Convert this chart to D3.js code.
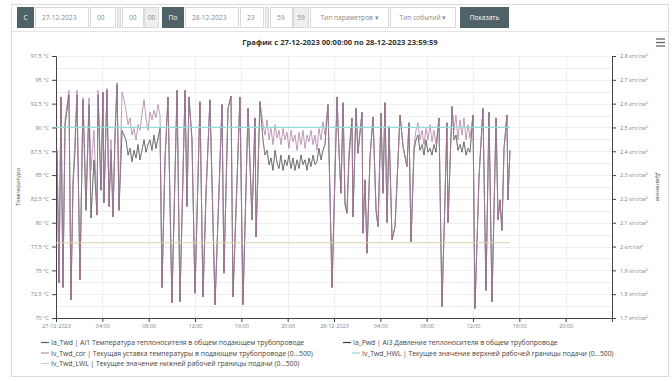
<!DOCTYPE html>
<html><head><meta charset="utf-8">
<script src="https://cdn.jsdelivr.net/npm/d3@7"></script>
<style>body{margin:0;background:#fff;font-family:"Open Sans",sans-serif}</style>
</head><body><svg id="c" width="672" height="381"></svg>
<script>
// ---- data (hours since 27-12-2023 00:00) ----
const hours = [0.09,0.26,0.43,0.60,0.78,0.95,1.12,1.29,1.47,1.64,1.81,2.07,2.33,2.59,2.85,3.02,3.28,3.54,3.63,3.88,4.06,4.14,4.40,4.58,4.75,4.92,5.09,5.27,5.44,5.70,
5.87,6.04,6.22,6.39,6.56,6.73,6.91,7.08,7.25,7.42,7.60,7.77,7.94,8.11,8.29,8.46,8.63,8.81,8.98,
9.15,9.41,9.67,10.01,10.45,10.70,11.14,11.31,11.48,11.74,12.00,12.43,12.69,12.95,13.29,13.47,13.73,14.33,14.50,14.85,15.11,15.28,15.88,16.14,16.58,16.92,17.18,17.27,17.61,
17.87,18.04,18.22,18.39,18.56,18.73,18.91,19.08,19.25,19.42,19.60,19.77,19.94,20.11,20.29,20.46,20.63,20.81,20.98,21.15,21.32,21.50,21.67,21.84,22.01,22.19,22.36,22.53,22.70,22.88,23.05,23.22,
23.48,23.83,24.26,24.43,24.60,24.78,24.95,25.12,25.29,25.55,25.64,25.90,26.07,26.42,26.50,26.68,26.85,27.11,27.37,27.63,27.80,28.06,28.23,28.40,28.58,28.75,29.01,29.27,29.70,29.96,30.30,30.47,30.65,
30.91,31.08,31.25,31.42,31.60,31.77,31.94,32.11,32.29,32.46,32.63,32.81,33.06,33.32,33.58,33.75,33.84,34.19,34.36,34.53,34.70,34.88,35.05,35.22,35.40,35.57,35.74,36.00,
36.17,36.52,36.86,37.12,37.38,37.64,37.99,38.16,38.33,38.50,38.68,38.93,39.02,39.19];

// Ia_Twd, °C
const twd = [87.6,73.7,93.2,73.2,90.3,91.8,93.4,71.9,84.0,87.6,93.4,74.0,92.9,81.3,92.4,80.5,86.6,80.8,93.4,83.4,93.7,82.1,93.9,81.7,87.6,80.6,88.7,94.5,81.3,89.7,
89.2,88.7,87.1,87.8,86.4,87.6,86.8,88.2,86.6,87.6,88.7,87.4,88.2,88.7,87.6,89.2,87.8,88.9,89.9,
73.2,86.6,93.2,71.6,93.9,71.7,93.9,81.7,93.2,88.7,72.6,92.7,72.2,82.9,92.9,84.0,71.4,92.4,74.7,92.0,93.3,72.2,93.2,71.4,92.0,80.3,91.0,78.5,92.7,
88.7,87.1,87.6,86.1,86.8,85.5,87.6,86.3,85.7,87.1,85.5,86.6,86.0,87.1,85.7,86.8,85.5,86.6,85.7,87.1,86.1,86.6,85.5,86.8,85.9,87.1,86.1,86.4,87.8,86.6,87.6,88.2,
92.4,73.2,93.2,87.6,83.1,92.6,81.9,81.0,86.6,91.0,80.6,92.0,87.3,91.6,78.9,84.5,76.8,86.9,91.1,81.3,79.6,91.5,83.1,92.6,80.0,90.1,78.2,79.6,91.3,88.0,85.9,90.5,78.0,
87.6,88.7,89.2,87.6,88.2,87.1,88.7,87.4,87.8,87.1,88.2,87.4,91.0,71.2,82.4,90.5,80.0,92.2,88.7,89.2,87.6,88.2,87.4,88.5,87.1,87.8,87.4,91.3,
71.0,84.8,92.0,72.9,91.6,71.7,91.0,80.3,82.4,79.2,87.8,91.3,82.4,87.6];

// Iv_Twd_cor, °C
const cor = [87.6,73.7,93.2,73.2,90.8,92.4,93.9,71.9,84.5,88.7,93.9,74.0,93.1,82.4,93.1,85.5,89.7,80.8,93.9,84.5,93.7,82.1,94.1,81.7,88.7,80.6,89.7,94.7,81.3,93.7,
92.9,91.8,90.3,91.0,89.2,89.9,88.7,90.3,89.7,91.3,92.9,91.0,89.7,91.6,90.8,91.8,91.0,92.4,91.3,
73.2,86.6,93.2,71.6,93.9,71.7,93.9,81.7,93.2,88.7,72.6,92.7,72.2,83.4,92.9,84.5,71.4,92.4,74.7,92.0,93.3,72.2,93.2,71.4,92.0,80.3,91.0,78.5,92.7,
90.3,89.2,90.8,88.7,89.9,88.2,90.3,88.9,89.7,88.2,89.9,88.7,89.5,87.8,89.7,88.5,89.2,87.6,89.5,88.2,89.7,87.8,89.2,88.5,89.7,88.2,89.2,87.6,89.9,88.7,90.6,89.2,
92.4,73.2,93.2,87.6,83.1,92.6,82.4,81.0,87.6,91.0,80.6,92.0,87.3,91.6,78.9,84.5,76.8,86.9,91.1,81.3,79.6,91.5,83.1,92.6,80.0,90.1,78.2,79.6,91.3,88.0,85.9,90.5,78.0,
88.2,89.7,90.5,88.7,89.7,88.2,89.9,88.7,90.3,88.5,89.7,88.2,91.0,71.2,82.4,90.5,80.0,92.2,89.7,91.3,88.7,90.8,89.2,91.0,88.7,90.3,88.9,91.3,
71.0,84.8,92.0,72.9,91.6,71.7,91.0,80.3,82.4,79.2,87.8,91.3,82.4,87.6];

// Ia_Pwd, кгс/см²
const pwd = [2.404,1.848,2.628,1.828,2.512,2.572,2.636,1.776,2.260,2.404,2.636,1.860,2.616,2.152,2.596,2.120,2.364,2.132,2.636,2.236,2.648,2.184,2.656,2.168,2.404,2.124,2.448,2.680,2.152,2.488,
2.468,2.448,2.384,2.412,2.356,2.404,2.372,2.428,2.364,2.404,2.448,2.396,2.428,2.448,2.404,2.468,2.412,2.456,2.496,
1.828,2.364,2.628,1.764,2.656,1.768,2.656,2.168,2.628,2.448,1.804,2.608,1.788,2.216,2.616,2.260,1.756,2.596,1.888,2.580,2.632,1.788,2.628,1.756,2.580,2.112,2.540,2.040,2.608,
2.448,2.384,2.404,2.344,2.372,2.320,2.404,2.352,2.328,2.384,2.320,2.364,2.340,2.384,2.328,2.372,2.320,2.364,2.328,2.384,2.344,2.364,2.320,2.372,2.336,2.384,2.344,2.356,2.412,2.364,2.404,2.428,
2.596,1.828,2.628,2.404,2.224,2.604,2.176,2.140,2.364,2.540,2.124,2.580,2.392,2.564,2.056,2.280,1.972,2.376,2.544,2.152,2.084,2.560,2.224,2.604,2.100,2.504,2.028,2.084,2.552,2.420,2.336,2.520,2.020,
2.404,2.448,2.468,2.404,2.428,2.384,2.448,2.396,2.412,2.384,2.428,2.396,2.540,1.748,2.196,2.520,2.100,2.588,2.448,2.468,2.404,2.428,2.396,2.440,2.384,2.412,2.396,2.552,
1.740,2.292,2.580,1.816,2.564,1.768,2.540,2.112,2.196,2.068,2.412,2.552,2.196,2.404];

const limitHours = [0, 39.19];
const hwl = [90, 90];     // Iv_Twd_HWL
const lwl = [77.9, 77.9]; // Iv_Twd_LWL

const tempTicks = [70,72.5,75,77.5,80,82.5,85,87.5,90,92.5,95,97.5];
const pressTicks = [1.7,1.8,1.9,2.0,2.1,2.2,2.3,2.4,2.5,2.6,2.7,2.8];
const timeTicks = [0,4,8,12,16,20,24,28,32,36,40,44];
const timeLabels = ["27-12-2023","04:00","08:00","12:00","16:00","20:00","28-12-2023","04:00","08:00","12:00","16:00","20:00"];

const seriesNames = [
 "Ia_Twd | AI1 Температура теплоносителя в общем подающем трубопроводе",
 "Ia_Pwd | AI3 Давление теплоносителя в общем трубопроводе",
 "Iv_Twd_cor | Текущая уставка температуры в подающем трубопроводе (0...500)",
 "Iv_Twd_HWL | Текущее значение верхней рабочей границы подачи (0...500)",
 "Iv_Twd_LWL | Текущее значение нижней рабочей границы подачи (0...500)"
];
const seriesColors = ["#5a5a5a","#3a3a3a","#b892b2","#92dcd8","#d8d2a8"];

// ---- drawing ----
const svg = d3.select("#c");
const L = 56, R = 612, T = 56, B = 318;
const x = d3.scaleLinear().domain([0,48]).range([L,R]);
const yT = d3.scaleLinear().domain([70,97.5]).range([B,T]);
const yP = d3.scaleLinear().domain([1.7,2.8]).range([B,T]);

// toolbar
svg.append("rect").attr("x",11.5).attr("y",4.5).attr("width",657).attr("height",372).attr("fill","none").attr("stroke","#dcdcdc");
svg.append("line").attr("x1",12).attr("x2",668).attr("y1",31.5).attr("y2",31.5).attr("stroke","#e4e4e4");
const tb = [
 {x:17,w:16,t:"С",dark:true},
 {x:35,w:53,t:"27-12-2023",left:true},
 {x:90,w:25,t:"00",left:true},
 {x:117,w:3,t:"",sep:true},
 {x:122,w:21,t:"00",left:true},
 {x:144,w:14,t:"00",grey:true},
 {x:162,w:21,t:"По",dark:true},
 {x:185,w:53,t:"28-12-2023",left:true},
 {x:240,w:23,t:"23",left:true},
 {x:265,w:3,t:"",sep:true},
 {x:270,w:22,t:"59",left:true},
 {x:293,w:15,t:"59",grey:true},
 {x:310,w:78,t:"Тип параметров ▾"},
 {x:390,w:65,t:"Тип событий ▾"},
 {x:460,w:48,t:"Показать",dark:true}
];
tb.forEach(b=>{
  svg.append("rect").attr("x",b.x+0.5).attr("y",7.5).attr("width",b.w).attr("height",20)
    .attr("fill", b.dark?"#4e6267":(b.grey||b.sep)?"#eeeeee":"#fff")
    .attr("stroke", b.dark?"#4e6267":"#d9d9d9");
  if(b.t) svg.append("text").attr("x", b.left? b.x+7 : b.x+b.w/2+0.5).attr("y",20.3)
    .attr("text-anchor", b.left?"start":"middle").attr("font-size",6.6)
    .attr("fill", b.dark?"#fff":"#8a8a8a").text(b.t);
});

// title
svg.append("text").attr("x",340).attr("y",45).attr("text-anchor","middle").attr("font-size",7.6)
  .attr("font-weight","bold").attr("fill","#333").text("График с 27-12-2023 00:00:00 по 28-12-2023 23:59:59");
// menu icon
[39,42.5,46].forEach(yy=>svg.append("line").attr("x1",656).attr("x2",665).attr("y1",yy).attr("y2",yy).attr("stroke","#666").attr("stroke-width",1.3));

// grid
const g = svg.append("g");
d3.range(0, 23).forEach(i=>{
  const v = 70 + i*1.25;
  g.append("line").attr("x1",L).attr("x2",R).attr("y1",Math.round(yT(v))+0.5).attr("y2",Math.round(yT(v))+0.5)
   .attr("stroke", "#eeeeee").attr("stroke-width",1);
});
timeTicks.slice(1).forEach(t=>{
  g.append("line").attr("x1",Math.round(x(t))+0.5).attr("x2",Math.round(x(t))+0.5).attr("y1",T).attr("y2",B).attr("stroke","#eeeeee");
});

// axes
const fmtT = d => (Number.isInteger(d)? d : d.toFixed(1)) + " °C";
const fmtP = d => (+d.toFixed(1)) + " кгс/см²";
const axL = svg.append("g").attr("transform",`translate(${L},0)`)
  .call(d3.axisLeft(yT).tickValues(tempTicks).tickFormat(fmtT).tickSize(4).tickPadding(3));
const axR = svg.append("g").attr("transform",`translate(${R},0)`)
  .call(d3.axisRight(yP).tickValues(pressTicks).tickFormat(fmtP).tickSize(4).tickPadding(4));
const axB = svg.append("g").attr("transform",`translate(0,${B})`)
  .call(d3.axisBottom(x).tickValues(timeTicks).tickFormat((d,i)=>timeLabels[i]).tickSize(4).tickPadding(2));
[axL,axR,axB].forEach(a=>{
  a.selectAll("path,line").attr("stroke","#444");
  a.selectAll("text").attr("font-size",5.5).attr("fill","#808080").attr("font-family","Open Sans");
});

svg.append("text").attr("transform","translate(20,187) rotate(-90)").attr("text-anchor","middle")
  .attr("font-size",6).attr("fill","#555").text("Температура");
svg.append("text").attr("transform","translate(656,187) rotate(90)").attr("text-anchor","middle")
  .attr("font-size",6).attr("fill","#555").text("Давление");

// lines
const lineT = d3.line().x(d=>x(d[0])).y(d=>yT(d[1]));
const lineP = d3.line().x(d=>x(d[0])).y(d=>yP(d[1]));
const plot = svg.append("g");
plot.append("path").datum(hours.map((h,i)=>[h,pwd[i]])).attr("d",lineP).attr("fill","none").attr("stroke",seriesColors[1]).attr("stroke-opacity",0.5).attr("stroke-width",0.8);
plot.append("path").datum(hours.map((h,i)=>[h,twd[i]])).attr("d",lineT).attr("fill","none").attr("stroke",seriesColors[0]).attr("stroke-opacity",0.8).attr("stroke-width",0.8);
plot.append("path").datum(hours.map((h,i)=>[h,cor[i]])).attr("d",lineT).attr("fill","none").attr("stroke","#a8749f").attr("stroke-opacity",0.8).attr("stroke-width",0.9);
plot.append("path").datum(limitHours.map((h,i)=>[h,hwl[i]])).attr("d",lineT).attr("fill","none").attr("stroke",seriesColors[3]).attr("stroke-width",1.2);
plot.append("path").datum(limitHours.map((h,i)=>[h,lwl[i]])).attr("d",lineT).attr("fill","none").attr("stroke",seriesColors[4]).attr("stroke-width",1.2);

// legend
const legPos = [[41,345],[343,345],[41,355.5],[352,355.5],[41,366]];
seriesNames.forEach((n,i)=>{
  const [lx,ly] = legPos[i];
  svg.append("line").attr("x1",lx).attr("x2",lx+8).attr("y1",ly-2.5).attr("y2",ly-2.5).attr("stroke",seriesColors[i]).attr("stroke-width",1.2);
  svg.append("text").attr("x",lx+10).attr("y",ly).attr("font-size",6.8).attr("fill","#444").text(n);
});
</script></body></html>
